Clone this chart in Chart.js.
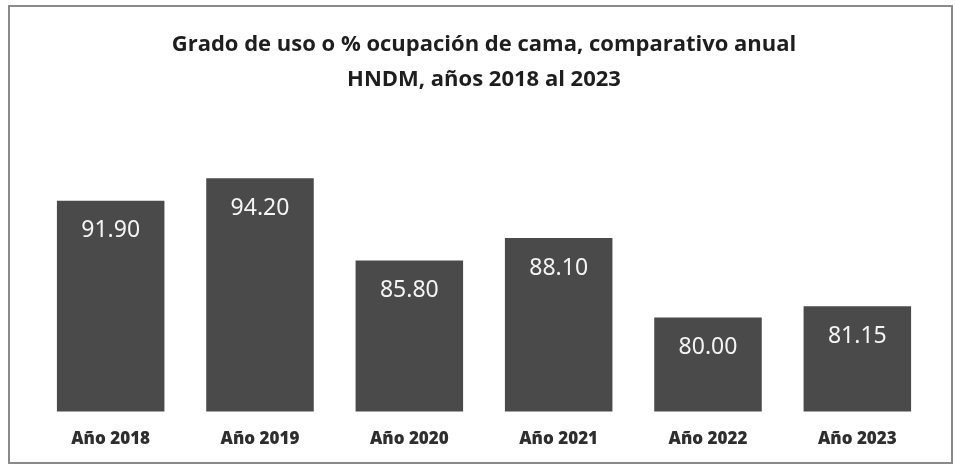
<!DOCTYPE html>
<html>
<head>
<meta charset="utf-8">
<script src="https://cdn.jsdelivr.net/npm/chart.js@4.4.1/dist/chart.umd.min.js"></script>
<style>
  html, body { margin: 0; padding: 0; background: #fff; }
  #wrap { position: relative; width: 956px; height: 468px; }
  #frame { position: absolute; left: 8px; top: 5px; width: 941px; height: 455px; border: 2px solid #8a8a8a; pointer-events: none; }
</style>
</head>
<body>
<div id="wrap">
  <canvas id="ocupacionChart" width="956" height="468"></canvas>
  <div id="frame"></div>
</div>
<script>
// Datos del gráfico
const categorias = ['Año 2018', 'Año 2019', 'Año 2020', 'Año 2021', 'Año 2022', 'Año 2023'];
const ocupacion = [91.90, 94.20, 85.80, 88.10, 80.00, 81.15];
const titulo = ['Grado de uso o % ocupación de cama, comparativo anual', 'HNDM, años 2018 al 2023'];

// Etiquetas de valor dentro de cada barra
const etiquetasValor = {
    id: 'etiquetasValor',
    afterDatasetsDraw(chart) {
        const { ctx } = chart;
        const meta = chart.getDatasetMeta(0);
        ctx.save();
        ctx.fillStyle = '#f4f4f4';
        ctx.font = '23px "Noto Sans", sans-serif';
        ctx.textAlign = 'center';
        ctx.textBaseline = 'middle';
        meta.data.forEach((bar, i) => {
            ctx.fillText(ocupacion[i].toFixed(2), bar.x, bar.y + 30);
        });
        ctx.restore();
    }
};

const ctx = document.getElementById('ocupacionChart').getContext('2d');
new Chart(ctx, {
    type: 'bar',
    data: {
        labels: categorias,
        datasets: [{
            data: ocupacion,
            backgroundColor: '#4a4a4a',
            borderWidth: 0,
            categoryPercentage: 0.72,
            barPercentage: 1
        }]
    },
    options: {
        responsive: false,
        animation: false,
        layout: { padding: { left: 36, right: 24, top: 0, bottom: 10 } },
        plugins: {
            legend: { display: false },
            tooltip: { enabled: false },
            title: {
                display: true,
                text: titulo,
                color: '#1e1e1e',
                font: { family: 'Open Sans', size: 22, weight: 'bold', lineHeight: 1.59 },
                padding: { top: 27, bottom: 44 }
            }
        },
        scales: {
            x: {
                grid: { display: false },
                border: { display: false },
                ticks: {
                    color: '#2e2e2e',
                    padding: 9,
                    font: { family: 'Open Sans', size: 17, weight: 800 }
                }
            },
            y: {
                display: false,
                min: 70.4,
                max: 98
            }
        }
    },
    plugins: [etiquetasValor]
});
</script>
</body>
</html>
